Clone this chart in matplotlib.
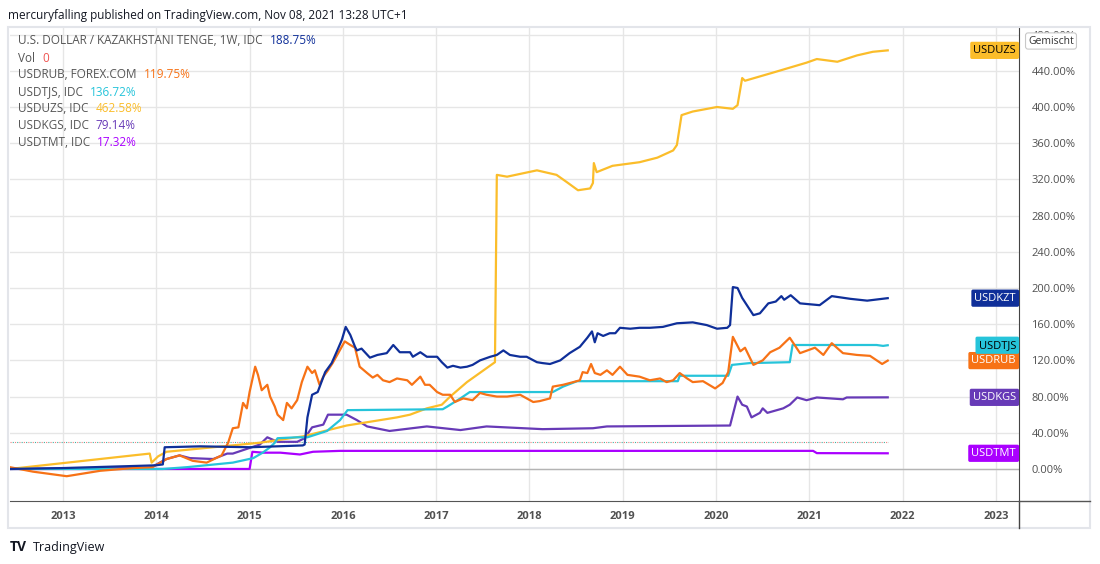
import matplotlib
matplotlib.use("Agg")
import matplotlib.pyplot as plt
from matplotlib.lines import Line2D
from matplotlib.patches import Rectangle
import matplotlib.transforms as mtransforms

plt.rcParams['font.family'] = ['Open Sans', 'DejaVu Sans']

# weekly % change since mid 2012 (decimal years)
kzt_x = [2012.43, 2013.0, 2013.99, 2014.07, 2014.09, 2014.47, 2015.01, 2015.57, 2015.59, 2015.62,
         2015.67, 2015.73, 2015.81, 2015.88, 2015.94, 2015.99, 2016.03, 2016.08, 2016.13, 2016.15,
         2016.20, 2016.29, 2016.37, 2016.47, 2016.54, 2016.61, 2016.72, 2016.75, 2016.83, 2016.90,
         2017.01, 2017.06, 2017.12, 2017.18, 2017.26, 2017.33, 2017.39, 2017.47, 2017.58, 2017.65,
         2017.72, 2017.79, 2017.90, 2017.97, 2018.08, 2018.14, 2018.22, 2018.33, 2018.43, 2018.54,
         2018.62, 2018.67, 2018.70, 2018.73, 2018.79, 2018.86, 2018.92, 2018.97, 2019.08, 2019.18,
         2019.29, 2019.43, 2019.58, 2019.75, 2019.90, 2020.01, 2020.12, 2020.15, 2020.18, 2020.23,
         2020.28, 2020.40, 2020.47, 2020.56, 2020.64, 2020.70, 2020.73, 2020.80, 2020.90, 2021.11,
         2021.24, 2021.44, 2021.62, 2021.84]
kzt_y = [0, 1, 4, 5, 24, 25, 24, 26, 27, 57,
         82, 85, 107, 117, 131, 143, 157, 148, 135, 131,
         133, 123, 126, 128, 137, 129, 129, 124, 129, 124,
         124, 118, 112, 114, 112, 113, 115, 120, 124, 126,
         131, 126, 124, 124, 118, 117, 116, 120, 128, 135,
         145, 152, 140, 150, 147, 150, 150, 156, 155, 156,
         156, 157, 161, 162, 159, 155, 156, 159, 201, 200,
         189, 170, 172, 183, 185, 191, 187, 192, 183, 181,
         191, 188, 186, 188.75]

rub_x = [2012.43, 2012.68, 2013.04, 2013.40, 2013.75, 2013.96, 2014.11, 2014.25, 2014.39, 2014.54,
         2014.70, 2014.77, 2014.82, 2014.88, 2014.93, 2014.97, 2015.00, 2015.06, 2015.09, 2015.13,
         2015.19, 2015.22, 2015.27, 2015.30, 2015.36, 2015.40, 2015.45, 2015.51, 2015.56, 2015.62,
         2015.67, 2015.70, 2015.75, 2015.79, 2015.84, 2015.89, 2015.95, 2016.02, 2016.08, 2016.13,
         2016.18, 2016.26, 2016.32, 2016.37, 2016.43, 2016.50, 2016.58, 2016.69, 2016.74, 2016.83,
         2016.88, 2016.93, 2017.01, 2017.07, 2017.15, 2017.20, 2017.29, 2017.39, 2017.47, 2017.54,
         2017.65, 2017.76, 2017.90, 2017.97, 2018.04, 2018.11, 2018.22, 2018.25, 2018.36, 2018.47,
         2018.54, 2018.57, 2018.62, 2018.66, 2018.70, 2018.76, 2018.83, 2018.89, 2018.97, 2019.05,
         2019.18, 2019.29, 2019.40, 2019.47, 2019.54, 2019.61, 2019.69, 2019.75, 2019.86, 2019.99,
         2020.07, 2020.13, 2020.18, 2020.26, 2020.31, 2020.40, 2020.50, 2020.58, 2020.68, 2020.79,
         2020.90, 2021.06, 2021.15, 2021.24, 2021.36, 2021.51, 2021.65, 2021.78, 2021.84]
rub_y = [2, -3, -8, -2, 1, 2, 11, 15, 9, 7,
         15, 29, 45, 46, 73, 67, 85, 113, 104, 87,
         93, 80, 69, 60, 54, 73, 67, 76, 96, 113,
         106, 109, 93, 102, 109, 117, 128, 141, 137, 134,
         113, 106, 101, 104, 98, 96, 100, 98, 93, 102,
         93, 93, 85, 82, 82, 74, 78, 76, 84, 82,
         80, 80, 82, 78, 74, 75, 78, 91, 93, 96,
         98, 107, 106, 116, 106, 104, 109, 104, 113, 104,
         102, 98, 100, 96, 98, 106, 100, 96, 97, 89,
         95, 107, 146, 130, 134, 115, 120, 129, 134, 145,
         128, 134, 126, 139, 128, 126, 125, 116, 119.75]

tjs_x = [2012.43, 2014.07, 2014.33, 2014.82, 2015.04, 2015.14, 2015.22, 2015.27, 2015.30, 2015.51,
         2015.62, 2015.83, 2015.97, 2016.05, 2017.07, 2017.12, 2017.26, 2017.36, 2018.25, 2018.36,
         2018.51, 2019.59, 2019.61, 2020.13, 2020.17, 2020.36, 2020.79, 2020.82, 2021.72, 2021.79,
         2021.84]
tjs_y = [0, 0, 2, 7, 12, 18, 24, 29, 34, 35,
         35, 42, 54, 65, 66, 69, 78, 85, 85, 91,
         97, 97, 103, 103, 115, 117, 118, 137, 137, 136,
         136.72]

uzs_x = [2012.43, 2013.75, 2013.93, 2013.95, 2014.02, 2014.11, 2015.11, 2015.57, 2016.04, 2016.58,
         2016.72, 2016.90, 2017.06, 2017.15, 2017.33, 2017.63, 2017.65, 2017.76, 2018.08, 2018.29,
         2018.40, 2018.52, 2018.65, 2018.68, 2018.69, 2018.72, 2018.89, 2019.18, 2019.37, 2019.54,
         2019.58, 2019.63, 2019.75, 2020.01, 2020.18, 2020.23, 2020.28, 2020.31, 2020.61, 2020.97,
         2021.08, 2021.30, 2021.51, 2021.68, 2021.84]
uzs_y = [0, 15, 17, 7, 14, 19, 29, 36, 48, 57,
         60, 67, 71, 80, 96, 118, 325, 323, 330, 325,
         317, 308, 310, 316, 338, 328, 335, 339, 344, 352,
         358, 391, 395, 400, 398, 402, 432, 429, 438, 449,
         453, 450, 457, 461, 462.58]

kgs_x = [2012.43, 2013.93, 2014.11, 2014.25, 2014.36, 2014.61, 2014.76, 2014.82, 2015.11, 2015.19,
         2015.30, 2015.51, 2015.59, 2015.67, 2015.79, 2015.84, 2016.04, 2016.15, 2016.26, 2016.50,
         2016.90, 2017.26, 2017.54, 2018.14, 2018.68, 2018.83, 2020.15, 2020.23, 2020.28, 2020.33,
         2020.38, 2020.47, 2020.50, 2020.55, 2020.72, 2020.79, 2020.87, 2020.97, 2021.08, 2021.36,
         2021.40, 2021.84]
kgs_y = [0, 1, 11, 15, 12, 11, 17, 17, 27, 35,
         30, 30, 34, 46, 49, 60, 60, 54, 47, 42,
         47, 43, 47, 44, 45, 47, 48, 80, 71, 69,
         57, 62, 67, 62, 67, 71, 79, 76, 79, 77,
         79, 79.14]

tmt_x = [2012.43, 2015.00, 2015.03, 2015.14, 2015.33, 2015.54, 2015.68, 2015.97, 2021.04, 2021.08, 2021.84]
tmt_y = [0, 0, 19, 18, 18, 16, 19, 20, 20, 17.5, 17.32]

vol_x = [2012.43, 2021.84]
vol_y = [30, 30]

names = ['USDKZT', 'USDRUB', 'USDTJS', 'USDUZS', 'USDKGS', 'USDTMT']
legend_names = ['U.S. DOLLAR / KAZAKHSTANI TENGE, 1W, IDC', 'USDRUB, FOREX.COM', 'USDTJS, IDC',
                'USDUZS, IDC', 'USDKGS, IDC', 'USDTMT, IDC']
last_vals = ['188.75%', '119.75%', '136.72%', '462.58%', '79.14%', '17.32%']
colors = ['#0f2f99', '#f77216', '#26c4da', '#fbbd2a', '#673ab7', '#aa00ff']
label_text = ['white', 'white', 'black', 'black', 'white', 'white']
years = list(range(2013, 2024))
yticks = list(range(0, 481, 40))

W, H = 1100, 564
fig = plt.figure(figsize=(W / 100, H / 100), dpi=100)
ax = fig.add_axes([10 / W, 1 - 501 / H, 1009 / W, 473 / H])
ax.set_xlim(2012.432, 2023.247)
ax.set_ylim(-35.4, 487.3)

ax.set_xticks(years)
ax.set_xticklabels([str(y) for y in years])
ax.set_yticks(yticks)
ax.set_yticklabels(['{:.2f}%'.format(v) for v in yticks])
ax.yaxis.tick_right()
ax.tick_params(axis='y', length=0, pad=9, labelsize=8, labelcolor='#505050')
ax.tick_params(axis='x', length=0, pad=7, labelsize=8, labelcolor='#505050')
for lbl in ax.get_xticklabels():
    lbl.set_fontweight('bold')
ax.grid(True, color='#e6e6e6', linewidth=1)
ax.set_axisbelow(True)
for s in ['top', 'left']:
    ax.spines[s].set_visible(False)
ax.spines['right'].set_color('#444444')
ax.spines['bottom'].set_color('#555555')
ax.axhline(0, color='#b4b4b4', linewidth=1, zorder=1)

# volume line (dotted, two-tone)
ax.plot(vol_x, vol_y, color='#f08080', linewidth=0.8, linestyle=(0, (1, 3)))
ax.plot(vol_x, vol_y, color='#40b0a0', linewidth=0.8, linestyle=(2, (1, 3)))

series = [(kzt_x, kzt_y), (rub_x, rub_y), (tjs_x, tjs_y), (uzs_x, uzs_y), (kgs_x, kgs_y), (tmt_x, tmt_y)]
for i in [5, 4, 3, 2, 1, 0]:
    xs, ys = series[i]
    ax.plot(xs, ys, color=colors[i], linewidth=1.6, zorder=3 + (i == 0))

# price labels at right edge
trans = mtransforms.blended_transform_factory(ax.transAxes, ax.transData)
for i in range(len(names)):
    ax.text(0.997, series[i][1][-1], names[i], transform=trans, ha='right', va='center',
            fontsize=8, color=label_text[i], zorder=6,
            bbox=dict(boxstyle='round,pad=0.28,rounding_size=0.15', fc=colors[i], ec='none'))

# top text
fig.text(8 / W, 1 - 15 / H, 'mercuryfalling published on TradingView.com, Nov 08, 2021 13:28 UTC+1',
         fontsize=8.5, color='#131722', va='center')

# legend block
lines_lab = [legend_names[0], 'Vol'] + legend_names[1:]
lines_val = [last_vals[0], '0'] + last_vals[1:]
lines_col = [colors[0], '#ef5350'] + colors[1:]
for k in range(len(lines_lab)):
    t = fig.text(18 / W, 1 - (41 + 17 * k) / H, lines_lab[k], fontsize=8.5, color='#555555', va='center')
    ax.annotate(lines_val[k], xy=(1, 0.5), xycoords=t, xytext=(5, 0), textcoords='offset points',
                fontsize=8.5, color=lines_col[k], va='center', annotation_clip=False)

# "Gemischt" button
fig.text(1051 / W, 1 - 41 / H, 'Gemischt', fontsize=7.5, color='#333333', ha='center', va='center',
         zorder=10, bbox=dict(boxstyle='round,pad=0.25', fc='white', ec='#c8c8c8', lw=0.8))

# frame
fig.add_artist(Rectangle((8 / W, 1 - 528 / H), 1082 / W, 501 / H, transform=fig.transFigure,
                         fill=False, ec='#e3e5ea', lw=1.5))
fig.add_artist(Line2D([1019 / W, 1019 / W], [1 - 501 / H, 1 - 528 / H], transform=fig.transFigure,
                      color='#444444', lw=1))
fig.add_artist(Line2D([1019 / W, 1090 / W], [1 - 501 / H, 1 - 501 / H], transform=fig.transFigure,
                      color='#555555', lw=1))

# footer logo
fig.text(10 / W, 1 - 547 / H, 'TV', fontsize=10, fontweight='bold', color='#131722', va='center')
fig.text(33 / W, 1 - 547 / H, 'TradingView', fontsize=9, color='#131722', va='center')

fig.savefig('out.png', dpi=100, facecolor='white')
